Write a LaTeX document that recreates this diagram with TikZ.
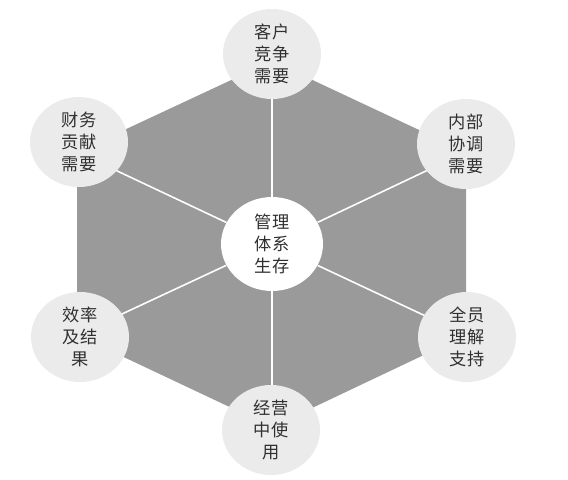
\documentclass[tikz,border=0pt]{standalone}
\usepackage{fontspec}
\newfontfamily\cjk{Noto Sans CJK SC}
\usetikzlibrary{shapes.geometric}
\definecolor{hexgray}{HTML}{9A9A9A}
\definecolor{bubble}{HTML}{EBEBEB}
\definecolor{ink}{HTML}{303030}

\begin{document}
\begin{tikzpicture}[x=0.02cm, y=-0.02cm,
    need/.style={ellipse, fill=bubble, minimum width=1.96cm, minimum height=1.8cm, inner sep=0pt, align=center, text=ink, font=\cjk\fontsize{9.8}{12.6}\selectfont},
    core/.style={need, fill=white, minimum width=2.04cm, minimum height=1.88cm},
    spoke/.style={draw=white, line width=0.9pt}]
    \useasboundingbox (0,0) rectangle (568,480);

    % Hexagon corners
    \coordinate (h1) at (272,61);
    \coordinate (h2) at (466,152);
    \coordinate (h3) at (466,335);
    \coordinate (h4) at (272,427);
    \coordinate (h5) at (77,335);
    \coordinate (h6) at (77,152);
    \fill[hexgray] (h1) -- (h2) -- (h3) -- (h4) -- (h5) -- (h6) -- cycle;

    % Central node
    \node[core] (C) at (272,244) {管理\\体系\\生存};

    % Spokes to the corners
    \draw[spoke] (C) -- (h1);
    \draw[spoke] (C) -- (h2);
    \draw[spoke] (C) -- (h3);
    \draw[spoke] (C) -- (h4);
    \draw[spoke] (C) -- (h5);
    \draw[spoke] (C) -- (h6);

    % Needs arranged around
    \node[need] (N1) at (272,54) {客户\\竞争\\需要};
    \node[need] (N2) at (466,144) {内部\\协调\\需要};
    \node[need] (N3) at (467,337) {全员\\理解\\支持};
    \node[need] (N4) at (271,430) {经营\\中使\\用};
    \node[need] (N5) at (80,337) {效率\\及结\\果};
    \node[need] (N6) at (79,142) {财务\\贡献\\需要};
\end{tikzpicture}
\end{document}
